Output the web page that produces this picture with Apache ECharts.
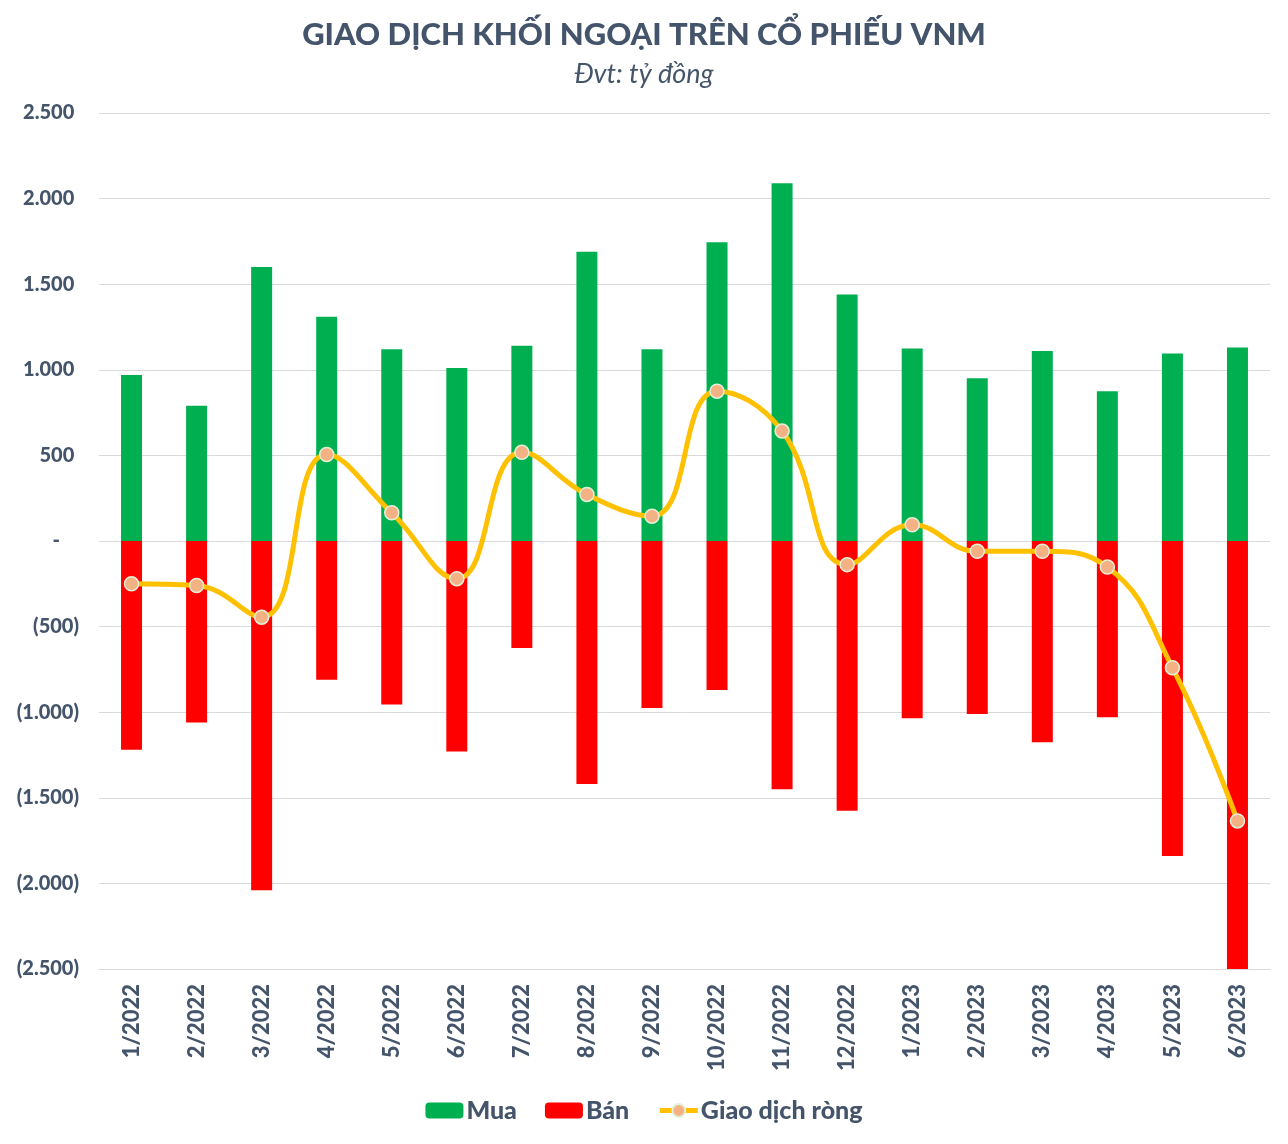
<!DOCTYPE html>
<html><head><meta charset="utf-8">
<script src="https://cdn.jsdelivr.net/npm/echarts@6/dist/echarts.min.js"></script>
<style>html,body{margin:0;padding:0;background:#fff}#c{width:1288px;height:1144px}</style>
</head><body><div id="c"></div>
<script>
const categories = ['1/2022','2/2022','3/2022','4/2022','5/2022','6/2022','7/2022','8/2022','9/2022','10/2022','11/2022','12/2022','1/2023','2/2023','3/2023','4/2023','5/2023','6/2023'];
const mua = [970, 790, 1600, 1310, 1120, 1010, 1140, 1690, 1120, 1745, 2090, 1440, 1125, 950, 1110, 875, 1095, 1130];
const ban = [-1220, -1060, -2040, -810, -955, -1230, -625, -1420, -975, -870, -1450, -1575, -1035, -1010, -1175, -1030, -1840, -2765];
const rong = [-250, -260, -445, 505, 165, -220, 518, 272, 145, 875, 642, -138, 95, -60, -60, -152, -740, -1635];

const C = '#44546A';
const FONT = 'Lato';
function fmt(v){
  if (v === 0) return '-    ';
  const s = Math.abs(v).toString().replace(/\B(?=(\d{3})+(?!\d))/g, '.');
  return v < 0 ? '(' + s + ')' : s + ' ';
}
const chart = echarts.init(document.getElementById('c'));
chart.setOption({
  animation: false,
  backgroundColor: '#fff',
  textStyle: {fontFamily: FONT},
  title: [
    {text: 'GIAO DỊCH KHỐI NGOẠI TRÊN CỔ PHIẾU VNM', left: 'center', top: 14,
     textStyle: {fontFamily: FONT, fontSize: 31, fontWeight: 900, color: C}},
    {text: 'Đvt: tỷ đồng', left: 'center', top: 56,
     textStyle: {fontFamily: FONT, fontSize: 27, fontStyle: 'italic', fontWeight: 'normal', color: C}}
  ],
  legend: {
    bottom: 16, left: 'center', itemGap: 28, itemWidth: 38, itemHeight: 16,
    textStyle: {fontFamily: FONT, fontSize: 25, fontWeight: 900, color: C, padding: [0,0,0,-2]},
    data: [
      {name: 'Mua'}, {name: 'Bán'},
      {name: 'Giao dịch ròng', lineStyle: {width: 5}}
    ]
  },
  grid: {left: 99, right: 18, top: 113, bottom: 175, containLabel: false},
  xAxis: {
    type: 'category', data: categories,
    axisLine: {lineStyle: {color: '#D9D9D9', width: 1}, onZero: false},
    axisTick: {show: false},
    axisLabel: {rotate: 90, margin: 15, fontFamily: FONT, fontSize: 22, fontWeight: 900, color: C}
  },
  yAxis: {
    type: 'value', min: -2500, max: 2500, interval: 500,
    axisLine: {show: false}, axisTick: {show: false},
    splitLine: {lineStyle: {color: '#D9D9D9', width: 1}},
    axisLabel: {margin: 20, fontFamily: FONT, fontSize: 20, fontWeight: 900, color: C, formatter: fmt}
  },
  series: [
    {name: 'Mua', type: 'bar', data: mua, barWidth: 21, barGap: '-100%', clip: true,
     itemStyle: {color: '#00B050'}},
    {name: 'Bán', type: 'bar', data: ban, barWidth: 21, barGap: '-100%', clip: true,
     itemStyle: {color: '#FF0000'}},
    {name: 'Giao dịch ròng', type: 'line', data: rong, smooth: 0.45, z: 5,
     lineStyle: {color: '#FFC000', width: 5},
     symbol: 'circle', symbolSize: 14,
     itemStyle: {color: '#F4B183', borderColor: '#E2F0D9', borderWidth: 1.5}}
  ]
});
</script></body></html>
